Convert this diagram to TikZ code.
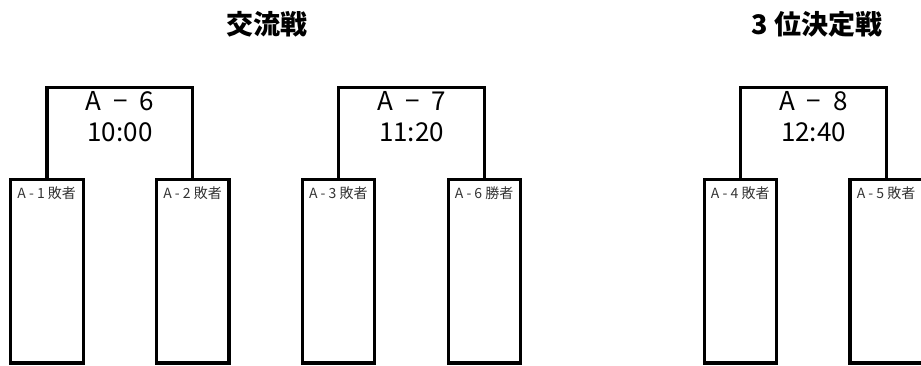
\documentclass[tikz,border=0pt]{standalone}
\usepackage{fontspec}
\setmainfont{Noto Sans CJK JP}
\usetikzlibrary{positioning}

\begin{document}
\begin{tikzpicture}[
    x=1pt, y=-1pt,
    node distance=73.3pt,
    team/.style={
        rectangle,
        draw,
        line width=3.2pt,
        outer sep=0pt,
        minimum width=72.5pt,
        minimum height=183.5pt
    },
    tag/.style={
        anchor=north west,
        inner xsep=6.5pt,
        inner ysep=6.5pt,
        text=black!80,
        font=\fontsize{14}{16}\selectfont
    },
    bracket/.style={
        rectangle,
        anchor=south west,
        inner sep=0pt,
        outer sep=0pt,
        minimum width=146pt,
        minimum height=91.8pt
    },
    match/.style={
        anchor=north,
        inner sep=3pt,
        align=center,
        font=\fontsize{26}{31}\selectfont
    },
    title/.style={font=\fontsize{27}{32}\selectfont\bfseries},
    link/.style={line width=3.2pt}
]
\useasboundingbox (0,0) rectangle (921,365);

% Titles
\node[title] (friendly) at (267,24) {交流戦};
\node[title] (third) at (817,24) {3 位決定戦};

% Team boxes
\node[team, label={[tag]north west:A - 1 敗者}] (a1) at (47,271.3) {};
\node[team, right=of a1, label={[tag]north west:A - 2 敗者}] (a2) {};
\node[team, right=of a2, label={[tag]north west:A - 3 敗者}] (a3) {};
\node[team, right=of a3, label={[tag]north west:A - 6 勝者}] (w6) {};
\node[team, right=183.6pt of w6, label={[tag]north west:A - 4 敗者}] (a4) {};
\node[team, right=of a4, label={[tag]north west:A - 5 敗者}] (a5) {};

% Matches
\node[bracket, label={[match]north:{A\hspace{0.45em}−~~6\\10:00}}] (m6) at (a1.north) {};
\node[bracket, label={[match]north:{A\hspace{0.45em}−~~7\\11:20}}] (m7) at (a3.north) {};
\node[bracket, label={[match]north:{A\hspace{0.45em}−~~8\\12:40}}] (m8) at (a4.north) {};

% Brackets
\draw[link] (a1.north) |- (m6.north) -| (a2.north);
\draw[link] (a3.north) |- (m7.north) -| (w6.north);
\draw[link] (a4.north) |- (m8.north) -| (a5.north);

\end{tikzpicture}
\end{document}
